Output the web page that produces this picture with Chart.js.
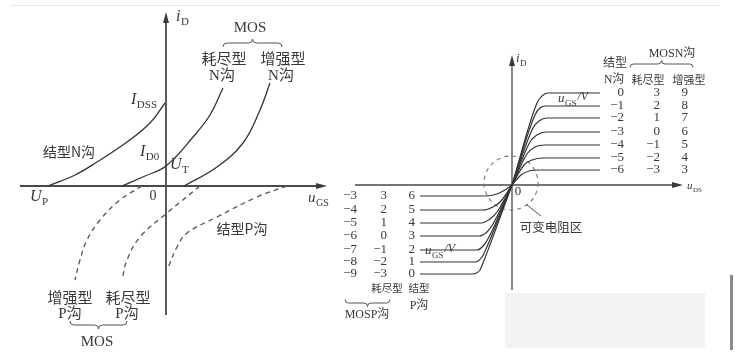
<!DOCTYPE html>
<html>
<head>
<meta charset="utf-8">
<script src="https://cdn.jsdelivr.net/npm/chart.js@4.4.0/dist/chart.umd.min.js"></script>
<style>
body{margin:0;background:#fff;width:735px;height:363px;overflow:hidden;position:relative}
#left{position:absolute;left:0;top:0}
#right{position:absolute;left:340px;top:0}
#topline{position:absolute;left:10px;top:5px;width:710px;height:1px;background:#e2e7ee}
#blur{position:absolute;left:505px;top:293px;width:200px;height:55px;background:#f3f3f3}
#bar{position:absolute;left:730px;top:275px;width:3px;height:75px;background:#8a8a8a}
</style>
</head>
<body>
<div id="topline"></div>
<div id="blur"></div>
<div id="bar"></div>
<canvas id="left" width="340" height="363"></canvas>
<canvas id="right" width="395" height="363"></canvas>
<script>
// transfer characteristics, u_GS (V) against i_D (mA)
const jfetN_u = [-5.9, -4.55, -3.45, -1.95, -0.8, -0.05];
const jfetN_i = [0, 0.55, 1.2, 2.2, 3.15, 4.15];
const depN_u = [-2.2, -1.05, 0, 1.35, 2.2, 2.85];
const depN_i = [0, 0.5, 1.0, 2.45, 3.55, 4.9];
const enhN_u = [0.9, 2.55, 3.85, 4.7, 5.2];
const enhN_i = [0, 0.95, 2.15, 3.8, 5.15];
const jfetP_u = [6.05, 4.55, 2.55, 1.05, 0.55, 0.2, 0.1];
const jfetP_i = [0, -0.55, -1.55, -2.35, -3.05, -3.85, -4.1];
const depP_u = [1.7, 0.05, -1.3, -1.95, -2.2];
const depP_i = [0, -1.35, -2.55, -3.7, -4.7];
const enhP_u = [-1.2, -2.3, -3.3, -3.95, -4.3, -4.55];
const enhP_i = [0, -0.7, -1.7, -2.7, -3.7, -4.7];

// output characteristics, u_DS against i_D, one row per u_GS step
const nCurveU = [
  [0, 2.5, 3.0, 3.6, 8.8],
  [0, 2.3, 2.8, 3.4, 8.8],
  [0, 2.1, 2.7, 3.5, 8.8],
  [0, 1.8, 2.5, 3.4, 8.8],
  [0, 1.5, 2.3, 3.3, 8.8],
  [0, 1.2, 2.0, 3.1, 8.8],
  [0, 0.9, 1.7, 2.8, 8.8]
];
const nCurveI = [
  [0, 8.2, 8.9, 9.2, 9.2],
  [0, 7.0, 7.7, 7.9, 7.9],
  [0, 5.7, 6.4, 6.7, 6.7],
  [0, 4.3, 5.0, 5.3, 5.3],
  [0, 3.1, 3.8, 4.0, 4.0],
  [0, 2.0, 2.5, 2.7, 2.7],
  [0, 1.0, 1.4, 1.5, 1.5]
];
const pCurveU = [
  [-9.2, -2.7, -1.5, -0.7, 0],
  [-9.2, -2.9, -1.9, -1.1, 0],
  [-9.2, -3.1, -2.2, -1.5, 0],
  [-9.2, -3.3, -2.5, -1.9, 0],
  [-9.2, -3.5, -2.8, -2.3, 0],
  [-9.2, -3.7, -3.0, -2.6, 0],
  [-9.2, -4.0, -3.2, -2.9, 0]
];
const pCurveI = [
  [-1.1, -1.1, -0.9, -0.5, 0],
  [-2.5, -2.5, -2.2, -1.6, 0],
  [-3.8, -3.8, -3.4, -2.7, 0],
  [-5.1, -5.1, -4.7, -3.9, 0],
  [-6.5, -6.5, -6.0, -5.2, 0],
  [-7.7, -7.7, -7.2, -6.4, 0],
  [-8.9, -8.9, -8.5, -7.8, 0]
];

// u_GS tick labels beside the curves
const nColJfet = ['0', '\u22121', '\u22122', '\u22123', '\u22124', '\u22125', '\u22126'];
const nColDep = ['3', '2', '1', '0', '\u22121', '\u22122', '\u22123'];
const nColEnh = ['9', '8', '7', '6', '5', '4', '3'];
const pColEnh = ['\u22123', '\u22124', '\u22125', '\u22126', '\u22127', '\u22128', '\u22129'];
const pColDep = ['3', '2', '1', '0', '\u22121', '\u22122', '\u22123'];
const pColJfet = ['6', '5', '4', '3', '2', '1', '0'];

const SERIF = "'Liberation Serif','DejaVu Serif',serif";
const CJK = "'Noto Sans CJK SC','Noto Sans CJK JP',sans-serif";
const INK = '#383838';

function pts(us, is) {
  return us.map(function (u, k) { return {x: u, y: is[k]}; });
}

function text(ctx, s, x, y, font, align) {
  ctx.font = font;
  ctx.textAlign = align || 'center';
  ctx.textBaseline = 'middle';
  ctx.fillText(s, x, y);
}

// italic symbol with upright subscript, returns end x
function symSub(ctx, main, sb, x, y, size) {
  ctx.textAlign = 'left';
  ctx.textBaseline = 'middle';
  ctx.font = 'italic ' + size + 'px ' + SERIF;
  ctx.fillText(main, x, y);
  var w = ctx.measureText(main).width;
  ctx.font = Math.round(size * 0.68) + 'px ' + SERIF;
  ctx.fillText(sb, x + w + 0.5, y + size * 0.35);
  return x + w + 0.5 + ctx.measureText(sb).width;
}

function brace(ctx, x1, x2, y, d, h) {
  var xm = (x1 + x2) / 2;
  ctx.beginPath();
  ctx.moveTo(x1, y + d * h);
  ctx.quadraticCurveTo(x1, y, x1 + h, y);
  ctx.lineTo(xm - h, y);
  ctx.quadraticCurveTo(xm, y, xm, y - d * h);
  ctx.quadraticCurveTo(xm, y, xm + h, y);
  ctx.lineTo(x2 - h, y);
  ctx.quadraticCurveTo(x2, y, x2, y + d * h);
  ctx.stroke();
}

function axes(ctx, x, y, xa, xb, ya, yb, w) {
  var ox = x.getPixelForValue(0), oy = y.getPixelForValue(0);
  var top = y.getPixelForValue(ya), bot = y.getPixelForValue(yb);
  var lft = x.getPixelForValue(xa), rgt = x.getPixelForValue(xb);
  ctx.save();
  ctx.strokeStyle = '#4a4a4a';
  ctx.fillStyle = '#3a3a3a';
  ctx.lineWidth = w;
  ctx.beginPath();
  ctx.moveTo(ox, bot); ctx.lineTo(ox, top + 4);
  ctx.moveTo(lft, oy); ctx.lineTo(rgt - 4, oy);
  ctx.stroke();
  ctx.beginPath();
  ctx.moveTo(ox, top); ctx.lineTo(ox - 3, top + 11); ctx.lineTo(ox + 3, top + 11); ctx.closePath();
  ctx.moveTo(rgt, oy); ctx.lineTo(rgt - 11, oy - 3); ctx.lineTo(rgt - 11, oy + 3); ctx.closePath();
  ctx.fill();
  ctx.restore();
}

function solid(data) {
  return {data: data, showLine: true, borderColor: '#333', borderWidth: 1.3, pointRadius: 0, tension: 0.4, fill: false};
}
function dashed(data) {
  return {data: data, showLine: true, borderColor: '#555', borderWidth: 1.3, borderDash: [5, 4], pointRadius: 0, tension: 0.4, fill: false};
}
function baseOptions(xmin, xmax, ymin, ymax) {
  return {
    responsive: false,
    animation: false,
    layout: {padding: 0},
    plugins: {legend: {display: false}, tooltip: {enabled: false}},
    scales: {
      x: {type: 'linear', min: xmin, max: xmax, display: false},
      y: {type: 'linear', min: ymin, max: ymax, display: false}
    }
  };
}

var leftDecor = {
  id: 'leftDecor',
  beforeDatasetsDraw: function (chart) {
    axes(chart.ctx, chart.scales.x, chart.scales.y, -7.3, 8.05, 8.7, -6.45, 1.8);
  },
  afterDatasetsDraw: function (chart) {
    var ctx = chart.ctx;
    ctx.save();
    ctx.fillStyle = INK;
    ctx.strokeStyle = '#555';
    ctx.lineWidth = 1;
    symSub(ctx, 'i', 'D', 176, 17, 16);
    text(ctx, 'MOS', 250, 28, '15px ' + SERIF);
    brace(ctx, 223, 282, 43, 1, 4);
    text(ctx, '耗尽型', 224, 58, '15px ' + CJK);
    text(ctx, '增强型', 283, 58, '15px ' + CJK);
    text(ctx, 'N沟', 222, 76, '15px ' + SERIF + ',' + CJK);
    text(ctx, 'N沟', 281, 76, '15px ' + SERIF + ',' + CJK);
    symSub(ctx, 'I', 'DSS', 131, 100, 16);
    text(ctx, '结型N沟', 69, 152, '14px ' + CJK);
    symSub(ctx, 'I', 'D0', 140, 152, 16);
    symSub(ctx, 'U', 'T', 170, 165, 16);
    symSub(ctx, 'U', 'P', 30, 197, 16);
    text(ctx, '0', 153, 196, '14px ' + SERIF);
    symSub(ctx, 'u', 'GS', 308, 198, 15);
    text(ctx, '结型P沟', 242, 229, '14px ' + CJK);
    text(ctx, '增强型', 70, 297, '15px ' + CJK);
    text(ctx, '耗尽型', 128, 297, '15px ' + CJK);
    text(ctx, 'P沟', 70, 314, '15px ' + SERIF + ',' + CJK);
    text(ctx, 'P沟', 127, 314, '15px ' + SERIF + ',' + CJK);
    brace(ctx, 70, 127, 325, -1, 4);
    text(ctx, 'MOS', 97, 342, '15px ' + SERIF);
    ctx.restore();
  }
};

new Chart(document.getElementById('left'), {
  type: 'scatter',
  data: {
    datasets: [
      solid(pts(jfetN_u, jfetN_i)),
      solid(pts(depN_u, depN_i)),
      solid(pts(enhN_u, enhN_i)),
      dashed(pts(jfetP_u, jfetP_i)),
      dashed(pts(depP_u, depP_i)),
      dashed(pts(enhP_u, enhP_i))
    ]
  },
  options: baseOptions(-8.3, 8.7, -8.85, 9.3),
  plugins: [leftDecor]
});

var rightDecor = {
  id: 'rightDecor',
  beforeDatasetsDraw: function (chart) {
    var ctx = chart.ctx, x = chart.scales.x, y = chart.scales.y;
    axes(ctx, x, y, -15.7, 17.1, 13.0, -10.5, 1.3);
    ctx.save();
    ctx.strokeStyle = '#777';
    ctx.lineWidth = 1.1;
    ctx.setLineDash([4, 4]);
    ctx.beginPath();
    ctx.arc(x.getPixelForValue(-0.1), y.getPixelForValue(0.2), x.getPixelForValue(2.7) - x.getPixelForValue(0), 0, Math.PI * 2);
    ctx.stroke();
    ctx.restore();
  },
  afterDatasetsDraw: function (chart) {
    var ctx = chart.ctx, y = chart.scales.y;
    ctx.save();
    ctx.translate(-340, 0);
    ctx.fillStyle = INK;
    ctx.strokeStyle = '#555';
    ctx.lineWidth = 1;
    symSub(ctx, 'i', 'D', 516, 59, 13);
    text(ctx, 'MOSN沟', 672, 54, '12px ' + SERIF + ',' + CJK);
    brace(ctx, 630, 693, 64, 1, 3.5);
    text(ctx, '结型', 615, 62, '12px ' + CJK);
    text(ctx, 'N沟', 614, 80, '12px ' + SERIF + ',' + CJK);
    text(ctx, '耗尽型', 648, 80, '11px ' + CJK);
    text(ctx, '增强型', 689, 80, '11px ' + CJK);
    var f = '13px ' + SERIF;
    for (var k = 0; k < nColJfet.length; k++) {
      var ly = y.getPixelForValue(nCurveI[k][nCurveI[k].length - 1]);
      text(ctx, nColJfet[k], 624, ly, f, 'right');
      text(ctx, nColDep[k], 660, ly, f, 'right');
      text(ctx, nColEnh[k], 688, ly, f, 'right');
    }
    for (var j = 0; j < pColJfet.length; j++) {
      var py = y.getPixelForValue(pCurveI[j][0]);
      text(ctx, pColEnh[j], 357, py, f, 'right');
      text(ctx, pColDep[j], 387, py, f, 'right');
      text(ctx, pColJfet[j], 415, py, f, 'right');
    }
    var e = symSub(ctx, 'u', 'GS', 558, 99, 13);
    text(ctx, '/V', e + 1, 97, 'italic 12px ' + SERIF, 'left');
    e = symSub(ctx, 'u', 'GS', 425, 251, 13);
    text(ctx, '/V', e + 1, 249, 'italic 12px ' + SERIF, 'left');
    text(ctx, '0', 518, 192, '13px ' + SERIF);
    symSub(ctx, 'u', 'DS', 687, 186, 11);
    ctx.beginPath();
    ctx.moveTo(527, 205); ctx.lineTo(541, 216);
    ctx.stroke();
    text(ctx, '可变电阻区', 551, 227, '12.5px ' + CJK);
    text(ctx, '耗尽型', 387, 288, '10.5px ' + CJK);
    text(ctx, '结型', 419, 288, '10.5px ' + CJK);
    text(ctx, 'P沟', 419, 306, '12px ' + SERIF + ',' + CJK);
    brace(ctx, 345, 390, 303, -1, 3.5);
    text(ctx, 'MOSP沟', 367, 315, '12px ' + SERIF + ',' + CJK);
    ctx.restore();
  }
};

var outSets = [];
for (var a = 0; a < nCurveU.length; a++) {
  outSets.push({data: pts(nCurveU[a], nCurveI[a]), showLine: true, borderColor: '#333', borderWidth: 1.2, pointRadius: 0, cubicInterpolationMode: 'monotone', fill: false});
}
for (var b = 0; b < pCurveU.length; b++) {
  outSets.push({data: pts(pCurveU[b], pCurveI[b]), showLine: true, borderColor: '#333', borderWidth: 1.2, pointRadius: 0, cubicInterpolationMode: 'monotone', fill: false});
}

new Chart(document.getElementById('right'), {
  type: 'scatter',
  data: {datasets: outSets},
  options: baseOptions(-17.2, 22.3, -17.8, 18.5),
  plugins: [rightDecor]
});
</script>
</body>
</html>
